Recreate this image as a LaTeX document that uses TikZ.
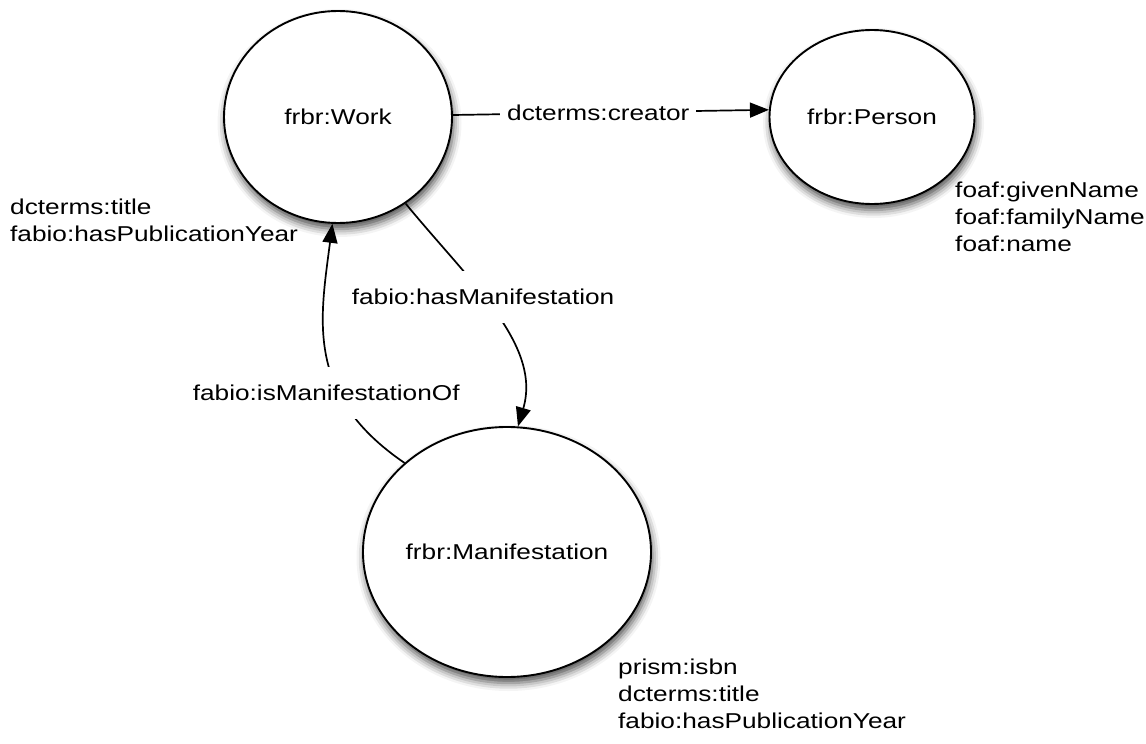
\documentclass[tikz,border=0pt]{standalone}
\usepackage{fontspec}
\setmainfont{Liberation Sans}[FakeStretch=1.22]
\usetikzlibrary{shapes.geometric,arrows.meta,shadows.blur}
\begin{document}
\begin{tikzpicture}[x=1pt,y=-1pt,
  every node/.style={font=\fontsize{21.5}{27}\selectfont},
  class/.style={ellipse,draw=black,line width=1.9pt,fill=white,inner sep=0pt,
    blur shadow={shadow xshift=1.5pt,shadow yshift=-6pt,shadow blur radius=8pt,shadow opacity=70}},
  rel/.style={line width=1.7pt,-{Triangle[length=19pt,width=15pt]}},
  lbl/.style={fill=white,inner xsep=7pt,inner ysep=18pt},
  props/.style={anchor=north west,align=left,inner sep=0pt}]
\useasboundingbox (0,0) rectangle (1146,744);

% classes
\node[class,minimum width=228pt,minimum height=212pt] (work) at (338,117) {frbr:Work};
\node[class,minimum width=205pt,minimum height=174pt] (person) at (872,117) {frbr:Person};
\node[class,minimum width=288pt,minimum height=250pt] (manif) at (507,552) {frbr:Manifestation};

% properties of each class
\node[props] (workprops) at (10,199) {dcterms:title\\fabio:hasPublicationYear};
\node[props] (personprops) at (955,182) {foaf:givenName\\foaf:familyName\\foaf:name};
\node[props] (manifprops) at (618,659) {prism:isbn\\dcterms:title\\fabio:hasPublicationYear};

% relations
\draw[rel] (work.1) -- node[lbl,pos=0.46] (lcreator) {dcterms:creator} (person.176);
\draw[rel] (work.-52) .. controls (470,282) and (542,345) ..
  node[lbl,pos=0.42] (lhas) {fabio:hasManifestation} (manif.85);
\draw[rel] (manif.139) .. controls (305,395) and (320,320) ..
  node[lbl,pos=0.33,xshift=-13pt] (lisof) {fabio:isManifestationOf} (work.-93);
\end{tikzpicture}
\end{document}
